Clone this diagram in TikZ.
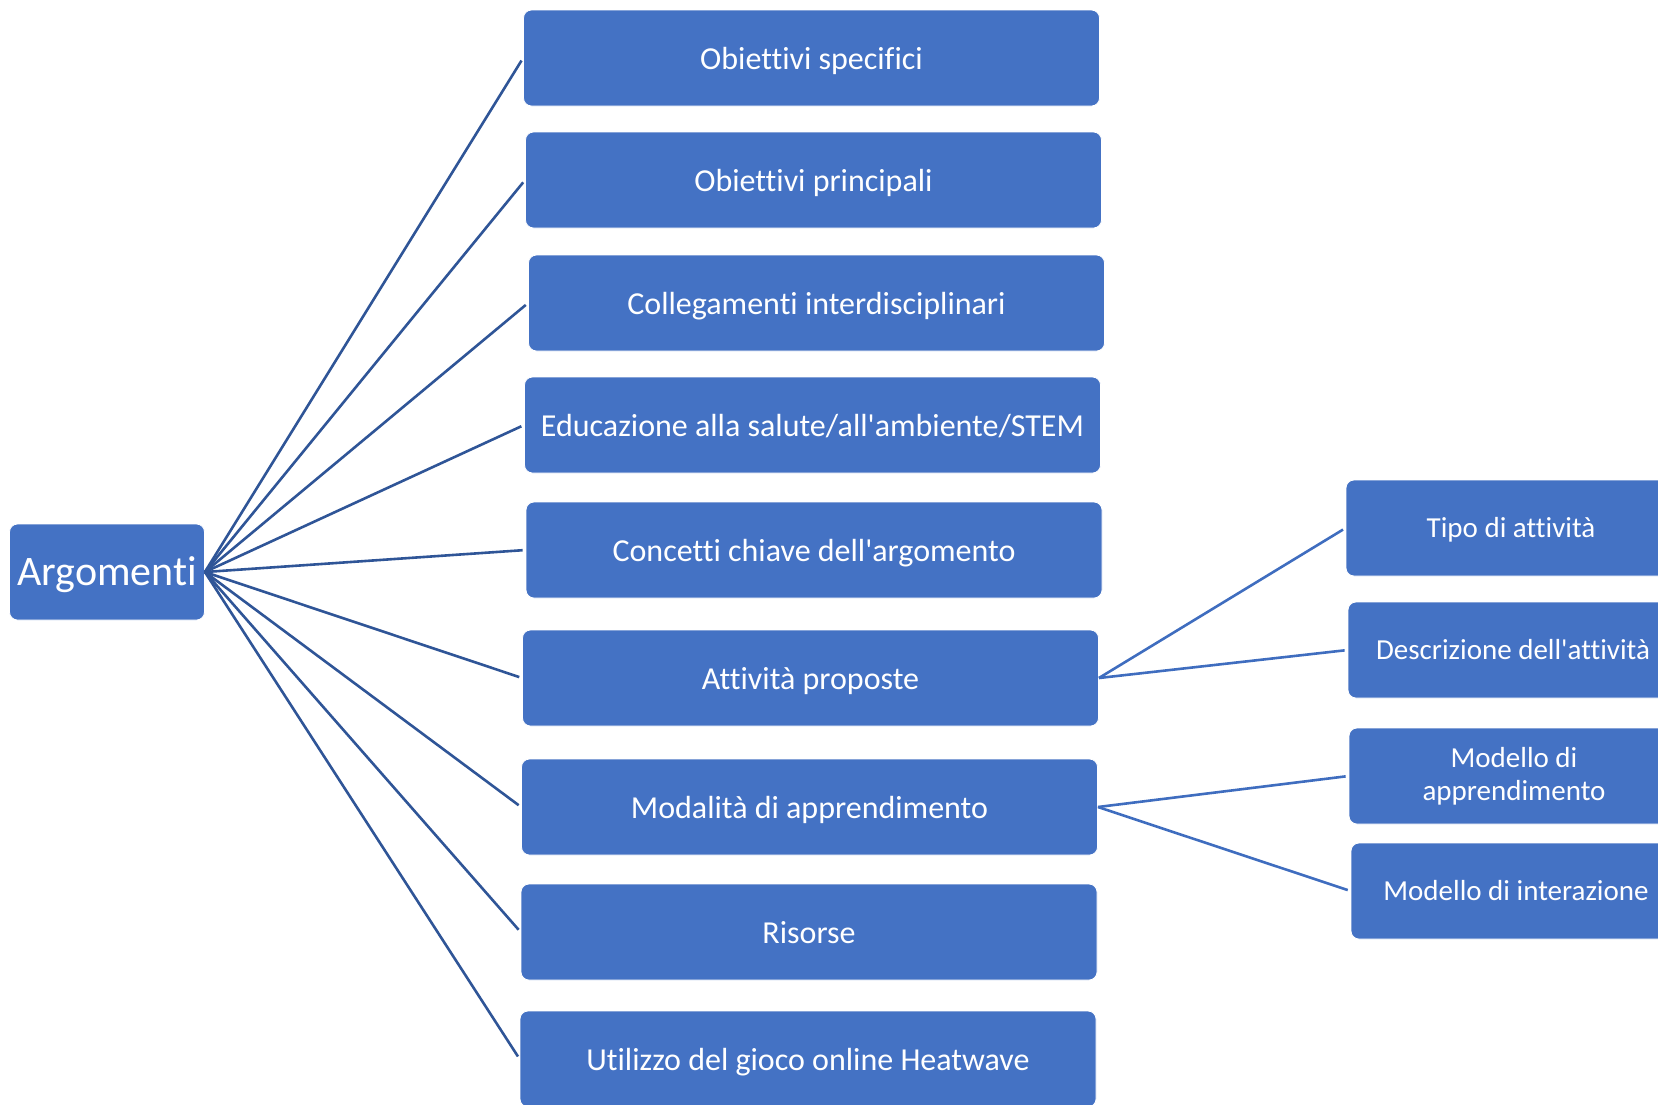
\documentclass[tikz,border=0pt]{standalone}
\usepackage{fontspec}
\setmainfont{Carlito}[RawFeature={-liga}]
\usepackage{xcolor}
\usepackage{tikz}
\usetikzlibrary{arrows.meta}

\definecolor{boxblue}{HTML}{4472C4}
\definecolor{linkdark}{HTML}{2F5597}
\definecolor{linklight}{HTML}{3F6DBF}

\begin{document}
\begin{tikzpicture}[x=0.5pt, y=-0.5pt,
		topic/.style={draw=white, line width=0.4pt, fill=boxblue, rounded corners=4pt,
			text=white, align=center, inner sep=0pt},
		oneline/.style={text height=#1, text depth=1pt},
		mainbox/.style={topic, oneline=12.8pt, minimum width=288pt, minimum height=48pt, font=\fontsize{16}{19}\selectfont},
		subbox/.style={topic, minimum width=165pt, minimum height=48pt, font=\fontsize{14.5}{16.5}\selectfont},
		link/.style={draw=linkdark, line width=1.3pt, shorten >=1.5pt},
		sublink/.style={draw=linklight, line width=1.3pt, shorten >=1.5pt}
	]
	\useasboundingbox (0,0) rectangle (1658,1104);
	\clip (0,0) rectangle (1658,1104);

	\node[topic, oneline=14.6pt, minimum width=97.5pt, minimum height=48pt, font=\fontsize{21}{25}\selectfont] (argomenti) at (107,572) {Argomenti};

	\node[mainbox] (obspec) at (811.5,58) {Obiettivi specifici};
	\node[mainbox] (obprinc) at (813.5,180) {Obiettivi principali};
	\node[mainbox] (colleg) at (816.5,303) {Collegamenti interdisciplinari};
	\node[mainbox] (educ) at (812.5,425) {Educazione alla salute/all\textquotesingle ambiente/STEM};
	\node[mainbox] (concetti) at (814,550) {Concetti chiave dell\textquotesingle argomento};
	\node[mainbox] (attivita) at (810.5,678) {Attività proposte};
	\node[mainbox] (modalita) at (809.5,807) {Modalità di apprendimento};
	\node[mainbox] (risorse) at (809,932) {Risorse};
	\node[mainbox] (heatwave) at (808,1059) {Utilizzo del gioco online Heatwave};

	\node[subbox, oneline=10.4pt] (tipo) at (1511,528) {Tipo di attività};
	\node[subbox, oneline=10.4pt] (descr) at (1513,650) {Descrizione dell\textquotesingle attività};
	\node[subbox] (modappr) at (1514,776) {Modello di\\apprendimento};
	\node[subbox, oneline=10.4pt] (modinter) at (1516,891) {Modello di interazione};

	% from the root to every topic
	\foreach \t in {obspec, obprinc, colleg, educ, concetti, attivita, modalita, risorse, heatwave}
		\draw[link] (argomenti.east) -- (\t.west);

	\draw[sublink] (attivita.east) -- (tipo.west);
	\draw[sublink] (attivita.east) -- (descr.west);
	\draw[sublink] (modalita.east) -- (modappr.west);
	\draw[sublink] (modalita.east) -- (modinter.west);
\end{tikzpicture}
\end{document}
